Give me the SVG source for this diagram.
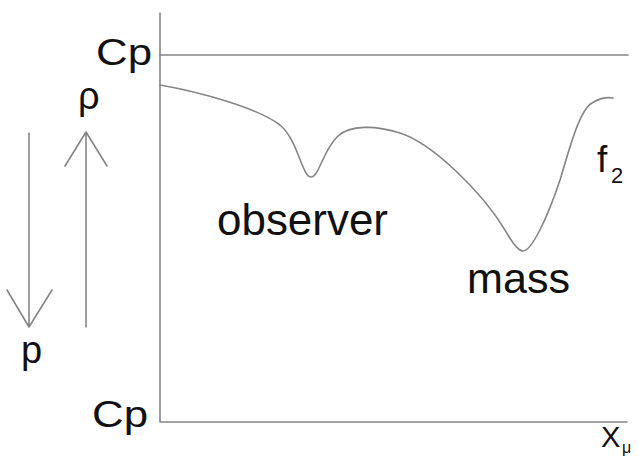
<svg xmlns="http://www.w3.org/2000/svg" width="639" height="458" viewBox="0 0 639 458">
<style>
.ln{fill:none;stroke:#858585;stroke-width:1.6;stroke-linecap:round;stroke-linejoin:round}
.t{font-family:"Liberation Sans",Arial,sans-serif;fill:#111}
</style>
<rect width="639" height="458" fill="#fff"/>
<g id="axes">
<path class="ln" d="M160,13 V422 H627"/>
<path class="ln" d="M160,55 H628"/>
</g>
<g id="curve">
<path class="ln" d="M160,85 C200,92 258,108 280,125 C298,140 302,177 311,177 C319,177 323,150 338,136 C350,125 375,125 400,133 C432,143 482,192 505,230 C514,246 519,251 523,251 C531,251 546,222 560,180 C571,143 580,110 592,103 C600,98 607,97 613,98"/>
</g>
<g id="arrows">
<path class="ln" d="M86,327 V132 M65,166 L86,132 L107,166"/>
<path class="ln" d="M29,133 V327 M7,290 L29,327 L52,290"/>
</g>
<g id="labels">
<text class="t" x="96" y="65" font-size="37" textLength="56" lengthAdjust="spacingAndGlyphs">Cp</text>
<text class="t" x="92" y="427" font-size="37" textLength="56" lengthAdjust="spacingAndGlyphs">Cp</text>
<text class="t" x="78" y="109" font-size="38">ρ</text>
<text class="t" x="21" y="363" font-size="38">p</text>
<text class="t" x="217" y="235" font-size="44" textLength="171" lengthAdjust="spacingAndGlyphs">observer</text>
<text class="t" x="467" y="293" font-size="43" textLength="103" lengthAdjust="spacingAndGlyphs">mass</text>
<text class="t" x="597" y="172" font-size="37">f</text>
<text class="t" x="611" y="183" font-size="22">2</text>
<text class="t" x="601" y="447" font-size="29">X</text>
<text class="t" x="622" y="453" font-size="16">μ</text>
</g>
</svg>
